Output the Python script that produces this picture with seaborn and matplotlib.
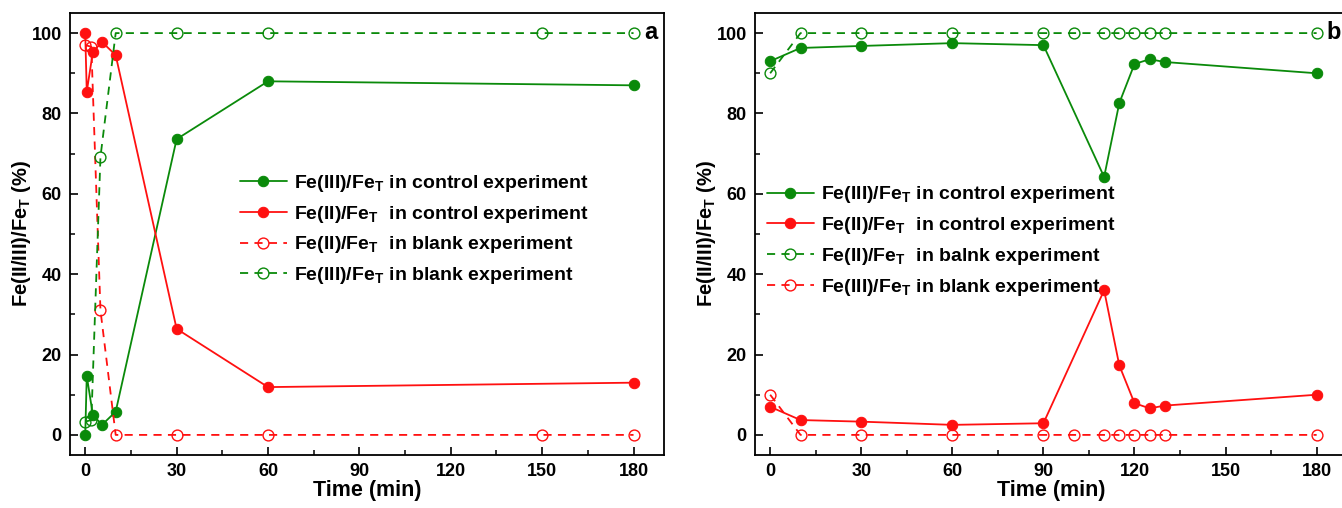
import numpy as np
import pandas as pd
import seaborn as sns
import matplotlib
matplotlib.use("Agg")
import matplotlib.pyplot as plt
from matplotlib.ticker import MultipleLocator

# ---------------- data ----------------
# Panel a
t_ctrl_a = [0, 0.5, 2.5, 5.5, 10, 30, 60, 180]
fe3_ctrl_a = [0, 14.7, 5.0, 2.5, 5.8, 73.6, 88.0, 87.0]
fe2_ctrl_a = [100, 85.4, 95.3, 97.8, 94.5, 26.4, 11.9, 13.0]
t_blank_a = [0, 2, 5, 10, 30, 60, 150, 180]
fe2_blank_a = [97, 96.6, 31, 0, 0, 0, 0, 0]
fe3_blank_a = [3.3, 3.7, 69.2, 100, 100, 100, 100, 100]

# Panel b
t_ctrl_b = [0, 10, 30, 60, 90, 110, 115, 120, 125, 130, 180]
fe3_ctrl_b = [93, 96.3, 96.8, 97.5, 97, 64.2, 82.6, 92.3, 93.5, 92.8, 90]
fe2_ctrl_b = [7, 3.7, 3.3, 2.5, 2.9, 36, 17.3, 7.9, 6.6, 7.3, 10]
t_blank_b = [0, 10, 30, 60, 90, 100, 110, 115, 120, 125, 130, 180]
green_blank_b = [90, 100, 100, 100, 100, 100, 100, 100, 100, 100, 100, 100]
red_blank_b = [10, 0, 0, 0, 0, 0, 0, 0, 0, 0, 0, 0]

labels_a = [r"Fe(III)/Fe$_\mathregular{T}$ in control experiment",
            r"Fe(II)/Fe$_\mathregular{T}$  in control experiment",
            r"Fe(II)/Fe$_\mathregular{T}$  in blank experiment",
            r"Fe(III)/Fe$_\mathregular{T}$ in blank experiment"]
labels_b = [r"Fe(III)/Fe$_\mathregular{T}$ in control experiment",
            r"Fe(II)/Fe$_\mathregular{T}$  in control experiment",
            r"Fe(II)/Fe$_\mathregular{T}$  in balnk experiment",
            r"Fe(III)/Fe$_\mathregular{T}$ in blank experiment"]
xticks = [0, 30, 60, 90, 120, 150, 180]
yticks = [0, 20, 40, 60, 80, 100]

# ---------------- style ----------------
sns.set_theme(style="ticks")
plt.rcParams['font.family'] = ['Liberation Sans', 'DejaVu Sans']
plt.rcParams['font.weight'] = 'bold'
plt.rcParams['mathtext.fontset'] = 'custom'
plt.rcParams['mathtext.rm'] = 'Liberation Sans:bold'
plt.rcParams['mathtext.bf'] = 'Liberation Sans:bold'
plt.rcParams['mathtext.it'] = 'Liberation Sans:bold'
for k in ['text.color', 'axes.labelcolor', 'xtick.color', 'ytick.color',
          'axes.edgecolor']:
    plt.rcParams[k] = 'black'

GREEN = '#0a8a0a'
RED = '#ff1010'

fig = plt.figure(figsize=(13.42, 5.08), dpi=100)
axA = fig.add_axes([70/1342, 1-455/508, 594/1342, 442/508])
axB = fig.add_axes([755/1342, 1-455/508, 592/1342, 442/508])


def solid(ax, x, y, color, label):
    sns.lineplot(x=x, y=y, ax=ax, color=color, lw=1.3, marker='o', ms=7.5,
                 markeredgecolor=color, markerfacecolor=color, sort=False,
                 estimator=None, label=label)


def dashed(ax, x, y, color, label):
    sns.lineplot(x=x, y=y, ax=ax, color=color, lw=1.3, ls=(0, (4.5, 3.5)),
                 marker='o', ms=7.8, markeredgecolor=color,
                 markerfacecolor='none', markeredgewidth=1.0, sort=False,
                 estimator=None, label=label)


solid(axA, t_ctrl_a, fe3_ctrl_a, GREEN, labels_a[0])
solid(axA, t_ctrl_a, fe2_ctrl_a, RED, labels_a[1])
dashed(axA, t_blank_a, fe2_blank_a, RED, labels_a[2])
dashed(axA, t_blank_a, fe3_blank_a, GREEN, labels_a[3])

solid(axB, t_ctrl_b, fe3_ctrl_b, GREEN, labels_b[0])
solid(axB, t_ctrl_b, fe2_ctrl_b, RED, labels_b[1])
dashed(axB, t_blank_b, green_blank_b, GREEN, labels_b[2])
dashed(axB, t_blank_b, red_blank_b, RED, labels_b[3])

for ax, letter, lx, ly in [(axA, 'a', 0.286, 0.51), (axB, 'b', 0.02, 0.484)]:
    ax.set_xlim(-5, 190)
    ax.set_ylim(-5, 105)
    ax.set_xticks(xticks)
    ax.set_yticks(yticks)
    ax.xaxis.set_minor_locator(MultipleLocator(15))
    ax.yaxis.set_minor_locator(MultipleLocator(10))
    ax.tick_params(which='major', direction='in', length=6, width=1.2,
                   labelsize=13, pad=6, colors='black')
    ax.tick_params(which='minor', direction='in', length=3.5, width=1.1,
                   colors='black')
    for lab in ax.get_xticklabels() + ax.get_yticklabels():
        lab.set_fontweight('bold')
    for s in ax.spines.values():
        s.set_linewidth(1.3)
        s.set_color('black')
    ax.set_xlabel('Time (min)', fontsize=15.5, fontweight='bold', labelpad=0)
    ax.set_ylabel(r'Fe(II/III)/Fe$_\mathregular{T}$ (%)', fontsize=14.5,
                  fontweight='bold')
    ax.yaxis.set_label_coords(-0.062, 0.5)
    ax.text(0.978, 0.955, letter, transform=ax.transAxes, fontsize=17,
            fontweight='bold', ha='center', va='center')
    leg = ax.legend(loc='center left', bbox_to_anchor=(lx, ly), frameon=False,
                    borderpad=0, borderaxespad=0,
                    handlelength=2.4, handletextpad=0.4, labelspacing=0.5,
                    prop={'weight': 'bold', 'size': 14})
    for t in leg.get_texts():
        t.set_color('black')

fig.savefig('out.png', dpi=100, facecolor='white')
